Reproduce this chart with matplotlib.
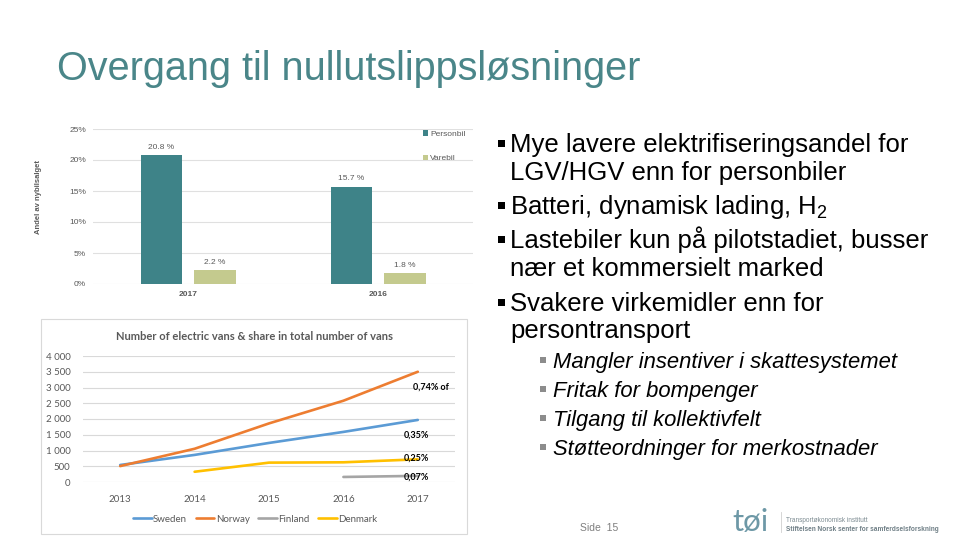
import matplotlib.pyplot as plt
from matplotlib.patches import Rectangle
from matplotlib.lines import Line2D

plt.rcParams['font.family'] = ['Liberation Sans', 'DejaVu Sans']
plt.rcParams['mathtext.fontset'] = 'custom'
plt.rcParams['mathtext.rm'] = 'Liberation Sans'

# bar chart data (share of new car sales)
bar_years = ['2017', '2016']
personbil = [20.8, 15.7]
varebil = [2.2, 1.8]
bar_ticks = [0, 5, 10, 15, 20, 25]

# line chart data (number of electric vans)
line_years = ['2013', '2014', '2015', '2016', '2017']
sweden = [540, 860, 1240, 1590, 1970]
norway = [505, 1055, 1860, 2580, 3500]
finland = [None, None, None, 160, 195]
denmark = [None, 325, 615, 625, 720]
share_labels = ['0,74% of', '0,35%', '0,25%', '0,07%']
share_pos = [(3.93, 3000), (3.81, 1490), (3.81, 770), (3.81, 160)]

bullets = [
    ['Mye lavere elektrifiseringsandel for', 'LGV/HGV enn for personbiler'],
    ['Batteri, dynamisk lading, H$_2$'],
    ['Lastebiler kun på pilotstadiet, busser', 'nær et kommersielt marked'],
    ['Svakere virkemidler enn for', 'persontransport'],
]
sub_bullets = ['Mangler insentiver i skattesystemet', 'Fritak for bompenger',
               'Tilgang til kollektivfelt', 'Støtteordninger for merkostnader']

W, H = 960, 540


def fx(x):
    return x / W


def fy(y):
    return 1 - y / H


fig = plt.figure(figsize=(9.6, 5.4), dpi=100)
fig.patch.set_facecolor('white')

# title
fig.text(fx(57), fy(80), 'Overgang til nullutslippsløsninger', fontsize=28.5,
         color='#4a8689', va='baseline')

# ---- bar chart ----
ax1 = fig.add_axes([fx(93), fy(284), (473 - 93) / W, (284 - 129) / H])
x = range(len(bar_years))
w = 0.22
b1 = ax1.bar([i - w / 2 - 0.03 for i in x], personbil, w, color='#3e8388', label='Personbil')
b2 = ax1.bar([i + w / 2 + 0.03 for i in x], varebil, w, color='#c4ca8e', label='Varebil')
ax1.bar_label(b1, labels=[f'{v:.1f} %' for v in personbil], padding=3, fontsize=6, color='#595959')
ax1.bar_label(b2, labels=[f'{v:.1f} %' for v in varebil], padding=3, fontsize=6, color='#595959')
ax1.set_xlim(-0.5, 1.5)
ax1.set_ylim(0, 25)
ax1.set_yticks(bar_ticks)
ax1.set_yticklabels([f'{t}%' for t in bar_ticks])
ax1.set_xticks(list(x))
ax1.set_xticklabels(bar_years, fontweight='bold')
ax1.tick_params(length=0, labelsize=6, labelcolor='#595959', pad=5)
ax1.grid(axis='y', color='#e0e0e0', lw=0.8)
ax1.set_axisbelow(True)
for s in ax1.spines.values():
    s.set_visible(False)
ax1.legend(loc='upper left', bbox_to_anchor=((415 - 93) / 380, 1.04), frameon=False,
           fontsize=6, labelcolor='#595959', handlelength=0.6, handleheight=0.6,
           handletextpad=0.3, labelspacing=2.0)
fig.text(fx(38), fy(197), 'Andel av nybilsalget', rotation=90, fontsize=5.5,
         fontweight='bold', color='#595959', ha='center', va='center')

# ---- line chart ----
fig.add_artist(Rectangle((fx(41), fy(534)), (467 - 41) / W, (534 - 319) / H,
                         transform=fig.transFigure, fill=False, ec='#d9d9d9', lw=0.8))
ax2 = fig.add_axes([fx(83), fy(482), (455 - 83) / W, (482 - 356) / H])
lf = 'Lato'
xs = list(range(len(line_years)))
series = [('Sweden', sweden, '#5b9bd5'), ('Norway', norway, '#ed7d31'),
          ('Finland', finland, '#a5a5a5'), ('Denmark', denmark, '#ffc000')]
for name, vals, col in series:
    px = [i for i, v in zip(xs, vals) if v is not None]
    py = [v for v in vals if v is not None]
    ax2.plot(px, py, color=col, lw=1.9, label=name, solid_capstyle='round')
ax2.set_xlim(-0.5, 4.5)
ax2.set_ylim(0, 4000)
ax2.set_yticks(range(0, 4001, 500))
ax2.set_yticklabels([f'{v:,}'.replace(',', ' ') for v in range(0, 4001, 500)], family=lf)
ax2.set_xticks(xs)
ax2.set_xticklabels(line_years, family=lf)
ax2.tick_params(axis='y', length=0, labelsize=7, labelcolor='#595959', pad=9)
ax2.tick_params(axis='x', length=0, labelsize=7, labelcolor='#595959', pad=9)
ax2.grid(axis='y', color='#d9d9d9', lw=0.8)
ax2.set_axisbelow(True)
for s in ax2.spines.values():
    s.set_visible(False)
for lab, (sx, sy) in zip(share_labels, share_pos):
    ax2.text(sx, sy, lab, fontsize=6.5, fontweight='bold', family=lf, va='center')
ax2.legend(loc='center', bbox_to_anchor=(0.463, -0.295), ncol=4, frameon=False,
           prop={'family': lf, 'size': 7}, labelcolor='#595959', handlelength=1.9,
           handletextpad=0.15, columnspacing=0.9)
fig.text(fx(254), fy(337), 'Number of electric vans & share in total number of vans',
         family=lf, fontsize=8, fontweight='bold', color='#595959', ha='center', va='center')

# ---- bullet text ----
main_base = [[152, 180], [214], [248, 276], [311, 338]]
for lines, bases in zip(bullets, main_base):
    fig.add_artist(Rectangle((fx(498), fy(bases[0] - 5)), 7 / W, 7 / H,
                             transform=fig.transFigure, color='black', lw=0))
    for t, b in zip(lines, bases):
        fig.text(fx(510), fy(b), t, fontsize=18.5, va='baseline', color='black')
sub_base = [368, 397, 426, 455]
for t, b in zip(sub_bullets, sub_base):
    fig.add_artist(Rectangle((fx(540), fy(b - 5)), 6 / W, 6 / H,
                             transform=fig.transFigure, color='#8c8c8c', lw=0))
    fig.text(fx(553), fy(b), t, fontsize=15.8, style='italic', va='baseline', color='black')

# ---- footer ----
fig.text(fx(580), fy(531), 'Side  15', fontsize=7.5, color='#7f7f7f', va='baseline')
fig.text(fx(732), fy(531), 'tøi', fontsize=22.5, color='#6d98a6', va='baseline', family=lf)
fig.add_artist(Line2D([fx(781), fx(781)], [fy(512), fy(532)], transform=fig.transFigure,
                      color='#d0d0d0', lw=0.6))
fig.text(fx(786), fy(522), 'Transportøkonomisk institutt', fontsize=4.7, color='#7d8c92',
         va='baseline')
fig.text(fx(786), fy(531), 'Stiftelsen Norsk senter for samferdselsforskning', fontsize=4.7,
         color='#6f7f86', fontweight='bold', va='baseline')

fig.savefig('out.png', dpi=100)
